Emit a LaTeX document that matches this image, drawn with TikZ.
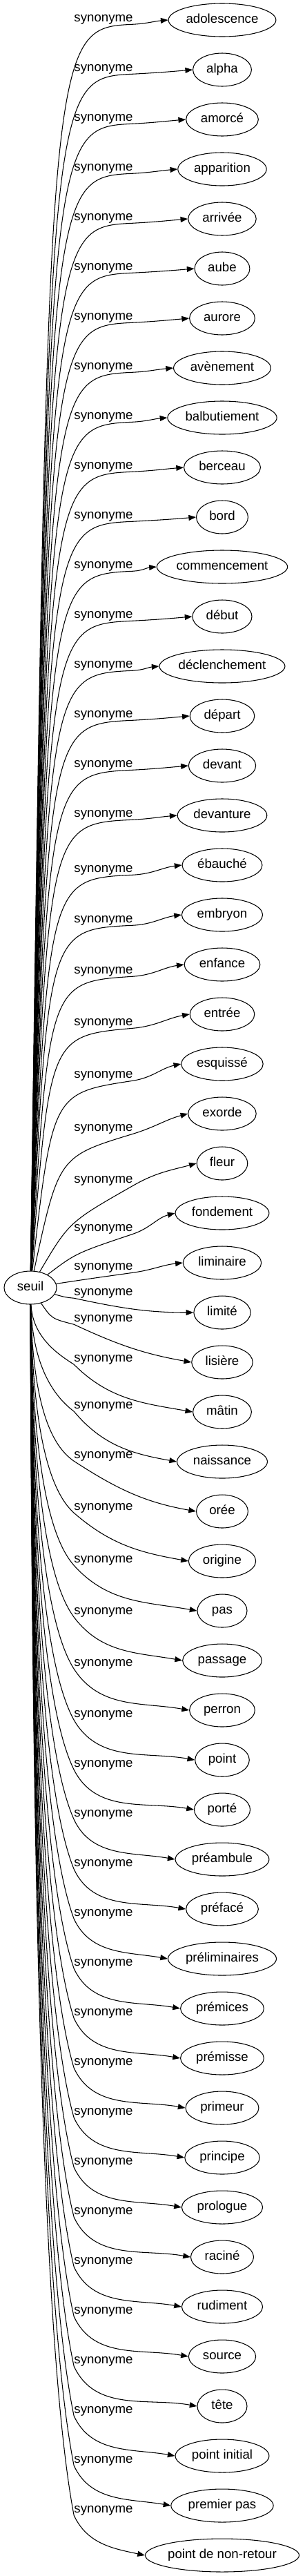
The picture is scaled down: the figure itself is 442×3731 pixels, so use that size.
\documentclass[tikz,border=0pt]{standalone}
\usepackage{fontspec}
\setmainfont{Liberation Sans}
\usetikzlibrary{shapes.geometric,arrows.meta}

\begin{document}
\begin{tikzpicture}[x=0.75pt,y=0.75pt,
  execute at begin picture={\fontsize{14pt}{17pt}\selectfont},
  wordnode/.style={draw, ellipse, line width=0.8pt, inner sep=0pt,
    text height=10pt, text depth=3pt, minimum height=36pt,
    minimum width={max(54,1.2*width("#1")+22.5)}},
  synlabel/.style={inner sep=0pt},
  synline/.style={line width=0.8pt, -{Triangle[length=8pt,width=6pt]}}]
  \useasboundingbox (0,0) rectangle (442,-3731);
  \begin{scope}
    \node[wordnode=seuil] (seuil) at (44,-1865) {seuil};

    \node[wordnode=adolescence] (c0) at (322,-29) {adolescence};
    \node[wordnode=alpha] (c1) at (322,-101) {alpha};
    \node[wordnode=amorcé] (c2) at (322,-173) {amorcé};
    \node[wordnode=apparition] (c3) at (322,-245) {apparition};
    \node[wordnode=arrivée] (c4) at (322,-317) {arrivée};
    \node[wordnode=aube] (c5) at (322,-389) {aube};
    \node[wordnode=aurore] (c6) at (322,-461) {aurore};
    \node[wordnode=avènement] (c7) at (322,-533) {avènement};
    \node[wordnode=balbutiement] (c8) at (322,-605) {balbutiement};
    \node[wordnode=berceau] (c9) at (322,-677) {berceau};
    \node[wordnode=bord] (c10) at (322,-749) {bord};
    \node[wordnode=commencement] (c11) at (322,-821) {commencement};
    \node[wordnode=début] (c12) at (322,-893) {début};
    \node[wordnode=déclenchement] (c13) at (322,-965) {déclenchement};
    \node[wordnode=départ] (c14) at (322,-1037) {départ};
    \node[wordnode=devant] (c15) at (322,-1109) {devant};
    \node[wordnode=devanture] (c16) at (322,-1181) {devanture};
    \node[wordnode=ébauché] (c17) at (322,-1253) {ébauché};
    \node[wordnode=embryon] (c18) at (322,-1325) {embryon};
    \node[wordnode=enfance] (c19) at (322,-1397) {enfance};
    \node[wordnode=entrée] (c20) at (322,-1469) {entrée};
    \node[wordnode=esquissé] (c21) at (322,-1541) {esquissé};
    \node[wordnode=exorde] (c22) at (322,-1613) {exorde};
    \node[wordnode=fleur] (c23) at (322,-1685) {fleur};
    \node[wordnode=fondement] (c24) at (322,-1757) {fondement};
    \node[wordnode=liminaire] (c25) at (322,-1829) {liminaire};
    \node[wordnode=limité] (c26) at (322,-1901) {limité};
    \node[wordnode=lisière] (c27) at (322,-1973) {lisière};
    \node[wordnode=mâtin] (c28) at (322,-2045) {mâtin};
    \node[wordnode=naissance] (c29) at (322,-2117) {naissance};
    \node[wordnode=orée] (c30) at (322,-2189) {orée};
    \node[wordnode=origine] (c31) at (322,-2261) {origine};
    \node[wordnode=pas] (c32) at (322,-2333) {pas};
    \node[wordnode=passage] (c33) at (322,-2405) {passage};
    \node[wordnode=perron] (c34) at (322,-2477) {perron};
    \node[wordnode=point] (c35) at (322,-2549) {point};
    \node[wordnode=porté] (c36) at (322,-2621) {porté};
    \node[wordnode=préambule] (c37) at (322,-2693) {préambule};
    \node[wordnode=préfacé] (c38) at (322,-2765) {préfacé};
    \node[wordnode=préliminaires] (c39) at (322,-2837) {préliminaires};
    \node[wordnode=prémices] (c40) at (322,-2909) {prémices};
    \node[wordnode=prémisse] (c41) at (322,-2981) {prémisse};
    \node[wordnode=primeur] (c42) at (322,-3053) {primeur};
    \node[wordnode=principe] (c43) at (322,-3125) {principe};
    \node[wordnode=prologue] (c44) at (322,-3197) {prologue};
    \node[wordnode=raciné] (c45) at (322,-3269) {raciné};
    \node[wordnode=rudiment] (c46) at (322,-3341) {rudiment};
    \node[wordnode=source] (c47) at (322,-3413) {source};
    \node[wordnode=tête] (c48) at (322,-3485) {tête};
    \node[wordnode=point initial] (c49) at (322,-3557) {point initial};
    \node[wordnode=premier pas] (c50) at (322,-3629) {premier pas};
    \node[wordnode=point de non-retour] (c51) at (322,-3701) {point de non-retour};

    \node[synlabel] (l0) at (150,-28) {synonyme};
    \node[synlabel] (l1) at (150,-100) {synonyme};
    \node[synlabel] (l2) at (150,-172) {synonyme};
    \node[synlabel] (l3) at (150,-244) {synonyme};
    \node[synlabel] (l4) at (150,-316) {synonyme};
    \node[synlabel] (l5) at (150,-388) {synonyme};
    \node[synlabel] (l6) at (150,-460) {synonyme};
    \node[synlabel] (l7) at (150,-532) {synonyme};
    \node[synlabel] (l8) at (150,-604) {synonyme};
    \node[synlabel] (l9) at (150,-676) {synonyme};
    \node[synlabel] (l10) at (150,-748) {synonyme};
    \node[synlabel] (l11) at (150,-820) {synonyme};
    \node[synlabel] (l12) at (150,-892) {synonyme};
    \node[synlabel] (l13) at (150,-964) {synonyme};
    \node[synlabel] (l14) at (150,-1036) {synonyme};
    \node[synlabel] (l15) at (150,-1108) {synonyme};
    \node[synlabel] (l16) at (150,-1180) {synonyme};
    \node[synlabel] (l17) at (150,-1260) {synonyme};
    \node[synlabel] (l18) at (150,-1333) {synonyme};
    \node[synlabel] (l19) at (150,-1407) {synonyme};
    \node[synlabel] (l20) at (150,-1482) {synonyme};
    \node[synlabel] (l21) at (150,-1558) {synonyme};
    \node[synlabel] (l22) at (150,-1635) {synonyme};
    \node[synlabel] (l23) at (150,-1710) {synonyme};
    \node[synlabel] (l24) at (150,-1780) {synonyme};
    \node[synlabel] (l25) at (150,-1836) {synonyme};
    \node[synlabel] (l26) at (150,-1873) {synonyme};
    \node[synlabel] (l27) at (150,-1911) {synonyme};
    \node[synlabel] (l28) at (150,-1969) {synonyme};
    \node[synlabel] (l29) at (150,-2037) {synonyme};
    \node[synlabel] (l30) at (150,-2109) {synonyme};
    \node[synlabel] (l31) at (150,-2184) {synonyme};
    \node[synlabel] (l32) at (150,-2260) {synonyme};
    \node[synlabel] (l33) at (150,-2335) {synonyme};
    \node[synlabel] (l34) at (150,-2410) {synonyme};
    \node[synlabel] (l35) at (150,-2484) {synonyme};
    \node[synlabel] (l36) at (150,-2556) {synonyme};
    \node[synlabel] (l37) at (150,-2628) {synonyme};
    \node[synlabel] (l38) at (150,-2700) {synonyme};
    \node[synlabel] (l39) at (150,-2772) {synonyme};
    \node[synlabel] (l40) at (150,-2844) {synonyme};
    \node[synlabel] (l41) at (150,-2916) {synonyme};
    \node[synlabel] (l42) at (150,-2988) {synonyme};
    \node[synlabel] (l43) at (150,-3060) {synonyme};
    \node[synlabel] (l44) at (150,-3132) {synonyme};
    \node[synlabel] (l45) at (150,-3204) {synonyme};
    \node[synlabel] (l46) at (150,-3276) {synonyme};
    \node[synlabel] (l47) at (150,-3348) {synonyme};
    \node[synlabel] (l48) at (150,-3420) {synonyme};
    \node[synlabel] (l49) at (150,-3492) {synonyme};
    \node[synlabel] (l50) at (150,-3564) {synonyme};
    \node[synlabel] (l51) at (150,-3636) {synonyme};

    \draw[synline] (seuil) .. controls (70,-41) .. (l0.south east) to[out=3,in=185] (c0.west);
    \draw[synline] (seuil) .. controls (70,-113) .. (l1.south east) to[out=3,in=185] (c1.west);
    \draw[synline] (seuil) .. controls (70,-185) .. (l2.south east) to[out=3,in=185] (c2.west);
    \draw[synline] (seuil) .. controls (70,-257) .. (l3.south east) to[out=3,in=185] (c3.west);
    \draw[synline] (seuil) .. controls (70,-329) .. (l4.south east) to[out=3,in=185] (c4.west);
    \draw[synline] (seuil) .. controls (70,-401) .. (l5.south east) to[out=3,in=185] (c5.west);
    \draw[synline] (seuil) .. controls (70,-473) .. (l6.south east) to[out=3,in=185] (c6.west);
    \draw[synline] (seuil) .. controls (70,-545) .. (l7.south east) to[out=3,in=185] (c7.west);
    \draw[synline] (seuil) .. controls (70,-617) .. (l8.south east) to[out=3,in=185] (c8.west);
    \draw[synline] (seuil) .. controls (70,-689) .. (l9.south east) to[out=3,in=185] (c9.west);
    \draw[synline] (seuil) .. controls (70,-761) .. (l10.south east) to[out=3,in=185] (c10.west);
    \draw[synline] (seuil) .. controls (70,-833) .. (l11.south east) to[out=3,in=185] (c11.west);
    \draw[synline] (seuil) .. controls (70,-905) .. (l12.south east) to[out=3,in=185] (c12.west);
    \draw[synline] (seuil) .. controls (70,-977) .. (l13.south east) to[out=3,in=185] (c13.west);
    \draw[synline] (seuil) .. controls (70,-1049) .. (l14.south east) to[out=3,in=185] (c14.west);
    \draw[synline] (seuil) .. controls (70,-1121) .. (l15.south east) to[out=3,in=185] (c15.west);
    \draw[synline] (seuil) .. controls (70,-1193) .. (l16.south east) to[out=3,in=185] (c16.west);
    \draw[synline] (seuil) .. controls (70,-1273) .. (l17.south east) to[out=3,in=187] (c17.west);
    \draw[synline] (seuil) .. controls (70,-1346) .. (l18.south east) to[out=3,in=188] (c18.west);
    \draw[synline] (seuil) .. controls (71,-1422) .. (l19.south east) to[out=4,in=188] (c19.west);
    \draw[synline] (seuil) .. controls (72,-1500) .. (l20.south east) to[out=5,in=190] (c20.west);
    \draw[synline] (seuil) .. controls (76,-1583) .. (l21.south east) to[out=9,in=192] (c21.west);
    \draw[synline] (seuil) .. controls (85,-1675) .. (l22.south east) to[out=17,in=195] (c22.west);
    \draw[synline] (seuil) .. controls (100,-1770) .. (l23.south east) to[out=30,in=195] (c23.west);
    \draw[synline] (seuil) .. controls (110,-1815) .. (l24.south east) to[out=19,in=195] (c24.west);
    \draw[synline] (seuil) .. controls (130,-1852) .. (l25.south east) to[out=8,in=186] (c25.west);
    \draw[synline] (seuil) .. controls (95,-1879) .. (l26.south west) to[out=-12,in=180] (c26.west);
    \draw[synline] (seuil) .. controls (75,-1910) .. (l27.south west) to[out=-25,in=170] (c27.west);
    \draw[synline] (seuil) .. controls (47,-1937) and (85,-1962) .. (l28.south west) to[out=-45,in=170] (c28.west);
    \draw[synline] (seuil) .. controls (47,-1974) and (75,-2020) .. (l29.south west) to[out=-50,in=170] (c29.west);
    \draw[synline] (seuil) .. controls (47,-2014) and (67,-2089) .. (l30.south west) to[out=-33,in=170] (c30.west);
    \draw[synline] (seuil) .. controls (47,-2055) and (67,-2155) .. (l31.south west) to[out=-41,in=170] (c31.west);
    \draw[synline] (seuil) .. controls (47,-2097) and (67,-2222) .. (l32.south west) to[out=-48,in=170] (c32.west);
    \draw[synline] (seuil) .. controls (47,-2138) and (67,-2288) .. (l33.south west) to[out=-53,in=170] (c33.west);
    \draw[synline] (seuil) .. controls (47,-2179) and (67,-2354) .. (l34.south west) to[out=-57,in=170] (c34.west);
    \draw[synline] (seuil) .. controls (47,-2220) and (67,-2419) .. (l35.south west) to[out=-60,in=170] (c35.west);
    \draw[synline] (seuil) .. controls (47,-2260) and (67,-2482) .. (l36.south west) to[out=-63,in=170] (c36.west);
    \draw[synline] (seuil) .. controls (47,-2299) and (67,-2545) .. (l37.south west) to[out=-65,in=170] (c37.west);
    \draw[synline] (seuil) .. controls (47,-2339) and (67,-2609) .. (l38.south west) to[out=-65,in=170] (c38.west);
    \draw[synline] (seuil) .. controls (47,-2379) and (67,-2672) .. (l39.south west) to[out=-65,in=170] (c39.west);
    \draw[synline] (seuil) .. controls (47,-2418) and (67,-2736) .. (l40.south west) to[out=-65,in=170] (c40.west);
    \draw[synline] (seuil) .. controls (47,-2458) and (67,-2799) .. (l41.south west) to[out=-65,in=170] (c41.west);
    \draw[synline] (seuil) .. controls (47,-2497) and (67,-2862) .. (l42.south west) to[out=-65,in=170] (c42.west);
    \draw[synline] (seuil) .. controls (47,-2537) and (67,-2926) .. (l43.south west) to[out=-65,in=170] (c43.west);
    \draw[synline] (seuil) .. controls (47,-2577) and (67,-2989) .. (l44.south west) to[out=-65,in=170] (c44.west);
    \draw[synline] (seuil) .. controls (47,-2616) and (67,-3052) .. (l45.south west) to[out=-65,in=170] (c45.west);
    \draw[synline] (seuil) .. controls (47,-2656) and (67,-3116) .. (l46.south west) to[out=-65,in=170] (c46.west);
    \draw[synline] (seuil) .. controls (47,-2695) and (67,-3179) .. (l47.south west) to[out=-65,in=170] (c47.west);
    \draw[synline] (seuil) .. controls (47,-2735) and (67,-3242) .. (l48.south west) to[out=-65,in=170] (c48.west);
    \draw[synline] (seuil) .. controls (47,-2775) and (67,-3306) .. (l49.south west) to[out=-65,in=170] (c49.west);
    \draw[synline] (seuil) .. controls (47,-2814) and (67,-3369) .. (l50.south west) to[out=-65,in=170] (c50.west);
    \draw[synline] (seuil) .. controls (47,-2854) and (67,-3433) .. (l51.south west) to[out=-65,in=168] (c51.west);
  \end{scope}
\end{tikzpicture}
\end{document}
